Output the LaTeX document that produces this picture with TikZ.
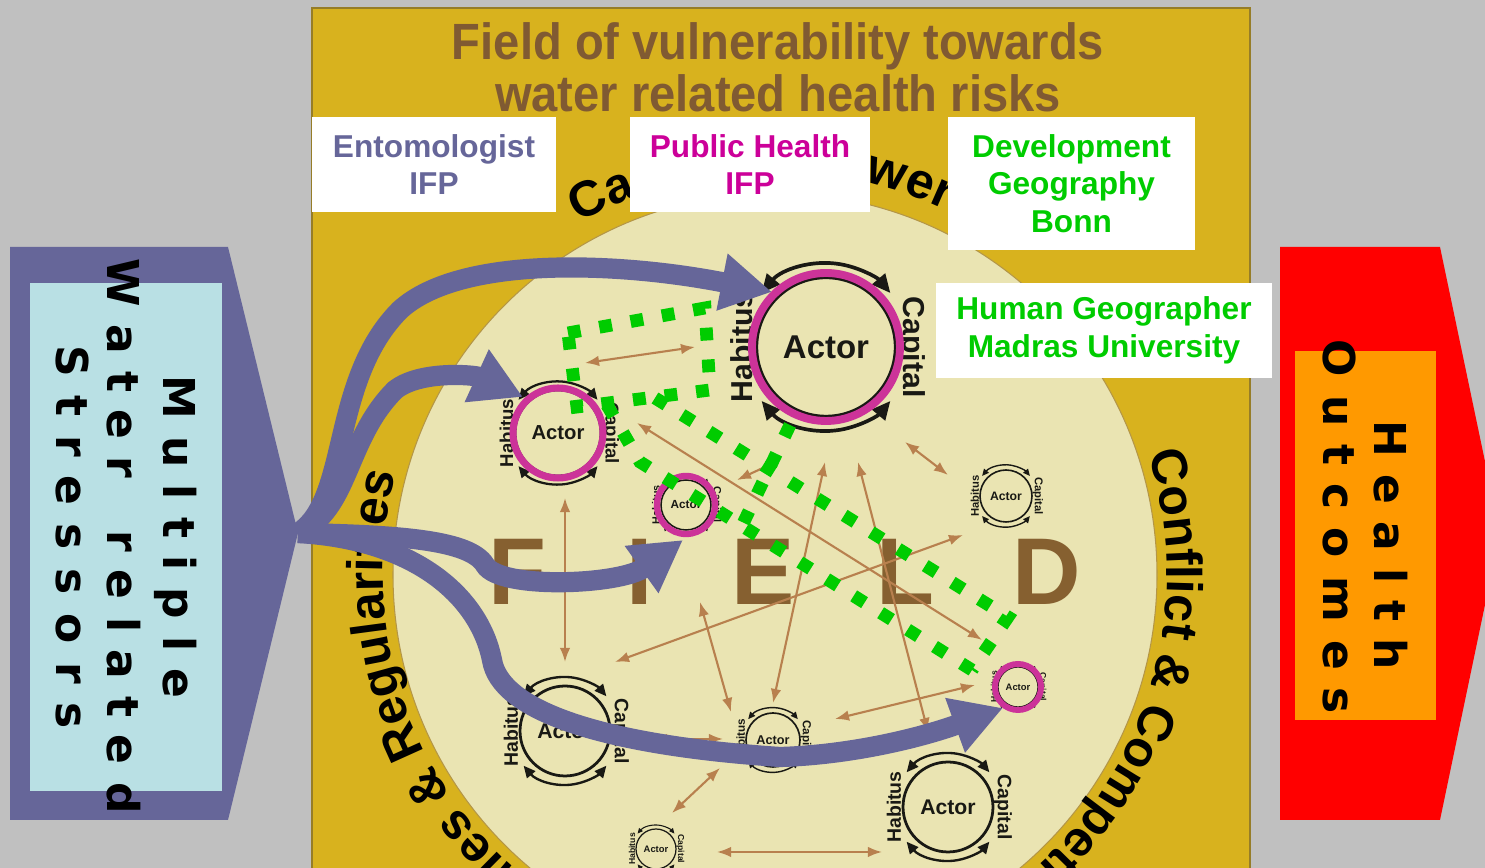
\documentclass[tikz,border=0pt]{standalone}
\usepackage{fontspec}
\usepackage{graphicx}
\setmainfont{Liberation Sans}
\newfontfamily\heavyfont{DejaVu Sans}
\usetikzlibrary{arrows.meta,decorations.text,calc}

\definecolor{bggray}{RGB}{192,192,192}
\definecolor{gold}{RGB}{216,178,30}
\definecolor{goldedge}{RGB}{150,125,40}
\definecolor{pale}{RGB}{234,228,178}
\definecolor{paleedge}{RGB}{180,150,70}
\definecolor{titlebrown}{RGB}{128,90,50}
\definecolor{fieldbrown}{RGB}{134,96,48}
\definecolor{arrbrown}{RGB}{184,128,78}
\definecolor{slate}{RGB}{102,102,153}
\definecolor{lightblue}{RGB}{185,224,228}
\definecolor{magring}{RGB}{204,51,153}
\definecolor{phmag}{RGB}{204,0,153}
\definecolor{dgreen}{RGB}{0,204,0}
\definecolor{orangebox}{RGB}{255,153,0}
\definecolor{actorblack}{RGB}{25,25,20}

\newcommand{\ringfont}{\bfseries\fontsize{28.5}{30}\selectfont}
\newcommand{\actorfont}{\bfseries\fontsize{13.4}{14}\selectfont}
\newcommand{\habfont}{\bfseries\fontsize{12.3}{13}\selectfont}
\newcommand{\sidefont}{\heavyfont\bfseries\fontsize{25}{25}\selectfont}

\tikzset{
  brownarr/.style={draw=arrbrown, line width=1.2pt,
    {Latex[length=8pt,width=6pt]}-{Latex[length=8pt,width=6pt]}},
  purplearr/.style={draw=slate, line width=11.5pt,
    -{Triangle[length=29pt,width=31pt]}},
  greendots/.style={draw=dgreen, line width=7.3pt, dash pattern=on 7.3pt off 10.8pt},
  infobox/.style={fill=white, inner sep=0pt, align=center,
    font=\bfseries\fontsize{18}{21.5}\selectfont},
  fieldletter/.style={anchor=base, text=fieldbrown, inner sep=0pt,
    font=\bfseries\fontsize{54}{54}\selectfont},
  actorarc/.style={draw=actorblack},
}

% #1 name, #2 x, #3 y, #4 radius (px)
\newcommand{\actorat}[4]{%
  \begin{scope}[shift={(#2,#3)}]
    \node[circle, draw=actorblack, line width={#4*0.035pt}, minimum size={#4*0.04cm}, inner sep=0pt] (#1) at (0,0) {};
    \node[scale={#4/50}, font=\actorfont, text=actorblack, inner sep=0pt] (#1t) at (0,0) {Actor};
    \node[scale={#4/50}, rotate=90, font=\habfont, text=actorblack, inner sep=0pt] (#1h) at ({-1.2*#4},0) {Habitus};
    \node[scale={#4/50}, rotate=-90, font=\habfont, text=actorblack, inner sep=0pt] (#1c) at ({1.22*#4},0) {Capital};
    \draw[actorarc, line width={#4*0.03pt}, {Triangle[length=0pt 5,width=0pt 4.5]}-{Triangle[length=0pt 5,width=0pt 4.5]}]
      (140:{1.2*#4}) arc[start angle=140, end angle=40, radius={1.2*#4}];
    \draw[actorarc, line width={#4*0.03pt}, {Triangle[length=0pt 5,width=0pt 4.5]}-{Triangle[length=0pt 5,width=0pt 4.5]}]
      (220:{1.2*#4}) arc[start angle=220, end angle=320, radius={1.2*#4}];
  \end{scope}}

\newcommand{\barrow}[3]{\coordinate (#1s) at #2; \coordinate (#1e) at #3; \draw[brownarr] (#1s) -- (#1e);}

\begin{document}
\begin{tikzpicture}[x=0.02cm, y=0.02cm]
\useasboundingbox (0,0) rectangle (1485,868);
\clip (0,0) rectangle (1485,868);
\fill[bggray] (0,0) rectangle (1485,868);

% gold panel and pale field
\filldraw[fill=gold, draw=goldedge, line width=0.8pt] (312,-5) rectangle (1250,860);
\filldraw[fill=pale, draw=paleedge, line width=0.6pt] (775,293) circle[radius=382];

% ring texts
\path[decorate, decoration={text along path, text align=center,
  text={|\ringfont|Capital {\&} Power}}]
  ([shift={(126:403)}]775,293) arc[start angle=126, end angle=58, radius=403];
\path[decorate, decoration={text along path, text align=left,
  text={|\ringfont|Conflict {\&} Competition}}]
  ([shift={(18:392)}]775,293) arc[start angle=18, end angle=-88, radius=392];
\path[decorate, decoration={text along path, text align=right,
  text={|\ringfont|Rules {\&} Regularities}}]
  ([shift={(252:392)}]775,293) arc[start angle=252, end angle=165, radius=392];

% title
\node[anchor=base, text=titlebrown, font=\bfseries\fontsize{29}{29}\selectfont, inner sep=0pt] (title1) at (778,808)
  {\scalebox{0.925}[1]{Field of vulnerability towards}};
\node[anchor=base, text=titlebrown, font=\bfseries\fontsize{29}{29}\selectfont, inner sep=0pt] (title2) at (778,756)
  {\scalebox{0.925}[1]{water related health risks}};

% FIELD
\node[fieldletter] (fF) at (517,263) {F};
\node[fieldletter] (fI) at (640,263) {I};
\node[fieldletter] (fE) at (763,263) {E};
\node[fieldletter] (fL) at (905,263) {L};
\node[fieldletter] (fD) at (1047,263) {D};

% brown relation arrows
\barrow{b1}{(585,505)}{(695,521)}
\barrow{b2}{(565,370)}{(565,206)}
\barrow{b3}{(637,445)}{(982,228)}
\barrow{b4}{(737,388)}{(780,408)}
\barrow{b5}{(905,426)}{(948,393)}
\barrow{b6}{(825,406)}{(773,165)}
\barrow{b7}{(858,406)}{(928,136)}
\barrow{b8}{(615,206)}{(963,333)}
\barrow{b9}{(700,266)}{(731,156)}
\barrow{b10}{(653,129)}{(723,129)}
\barrow{b11}{(720,100)}{(672,55)}
\barrow{b12}{(717,16)}{(882,16)}
\barrow{b13}{(835,149)}{(975,183)}

% actors
\actorat{a1}{826}{521}{70}
\actorat{a2}{558}{435}{43}
\actorat{a3}{686}{363}{25}
\actorat{a4}{1006}{372}{26}
\actorat{a5}{1018}{181}{20}
\actorat{a6}{565}{137}{45}
\actorat{a7}{773}{128}{27}
\actorat{a8}{948}{61}{45}
\actorat{a9}{656}{19}{20}

% magenta highlight rings
\draw[magring, line width=4.5pt] (a1) circle[radius=74];
\draw[magring, line width=4pt] (a2) circle[radius=45];
\draw[magring, line width=3.6pt] (a3) circle[radius=29];
\draw[magring, line width=3.4pt] (a5) circle[radius=23];

% left pentagon arrow
\fill[slate] (10,621) -- (228,621) -- (298,335) -- (228,48) -- (10,48) -- cycle;
\fill[lightblue] (30,77) rectangle (222,585);
\node[rotate=-90, font=\sidefont, inner sep=0pt] (mult) at (176,331)
  {\makebox[184pt][s]{M\hfill u\hfill l\hfill t\hfill i\hfill p\hfill l\hfill e}};
\node[rotate=-90, font=\sidefont, inner sep=0pt] (water) at (124,332)
  {\makebox[316pt][s]{W\hfill a\hfill t\hfill e\hfill r\hfill\hspace{0.4em}\hfill r\hfill e\hfill l\hfill a\hfill t\hfill e\hfill d}};
\node[rotate=-90, font=\sidefont, inner sep=0pt] (stress) at (72,331)
  {\makebox[218pt][s]{S\hfill t\hfill r\hfill e\hfill s\hfill s\hfill o\hfill r\hfill s}};

% right pentagon arrow
\fill[red] (1280,621) -- (1440,621) -- (1500,335) -- (1440,48) -- (1280,48) -- cycle;
\fill[orangebox] (1295,148) rectangle (1436,517);
\node[rotate=-90, font=\sidefont, inner sep=0pt] (health) at (1391,323)
  {\makebox[142pt][s]{H\hfill e\hfill a\hfill l\hfill t\hfill h}};
\node[rotate=-90, font=\sidefont, inner sep=0pt] (outc) at (1339,341)
  {\makebox[213pt][s]{O\hfill u\hfill t\hfill c\hfill o\hfill m\hfill e\hfill s}};

% purple stressor arrows
\coordinate (src) at (298,335);
\coordinate (t1) at (772,576);
\coordinate (t2) at (523,471);
\coordinate (t3) at (683,328);
\coordinate (t4) at (1003,160);
\draw[purplearr] (src) .. controls (350,368) and (330,488) .. (400,558)
  .. controls (460,613) and (620,606) .. (t1);
\draw[purplearr] (src) .. controls (350,358) and (345,428) .. (395,478)
  .. controls (420,498) and (475,493) .. (t2);
\draw[purplearr] (src) .. controls (400,333) and (470,328) .. (485,303)
  .. controls (500,278) and (620,283) .. (t3);
\draw[purplearr] (src) .. controls (420,328) and (480,268) .. (492,208)
  .. controls (500,158) and (600,123) .. (780,111)
  .. controls (850,113) and (920,130) .. (t4);

% green dotted research field
\coordinate (g1) at (568,535);
\coordinate (g2) at (705,560);
\coordinate (g3) at (710,478);
\coordinate (g4) at (577,461);
\coordinate (g5) at (655,470);
\coordinate (g6) at (1008,251);
\coordinate (g7) at (972,198);
\coordinate (g8) at (607,463);
\coordinate (g9) at (640,406);
\coordinate (g10) at (790,443);
\coordinate (g11) at (740,338);
\draw[greendots] (g1) -- (g2) -- (g3) -- (g4) -- cycle;
\draw[greendots] (g5) -- (g6) -- (g7);
\draw[greendots] (g8) -- (g9) -- (g7);
\draw[greendots] (g10) -- (g11);

% discipline boxes
\node[infobox, text=slate, minimum width=4.88cm, minimum height=1.9cm] (ento) at (434,703.5) {Entomologist\\IFP};
\node[infobox, text=phmag, minimum width=4.8cm, minimum height=1.9cm] (ph) at (750,703.5) {Public Health\\IFP};
\node[infobox, text=dgreen, minimum width=4.94cm, minimum height=2.66cm] (dev) at (1071.5,684.5) {Development\\Geography\\Bonn};
\node[infobox, text=dgreen, minimum width=6.72cm, minimum height=1.9cm] (hg) at (1104,537.5) {Human Geographer\\Madras University};
\end{tikzpicture}
\end{document}
